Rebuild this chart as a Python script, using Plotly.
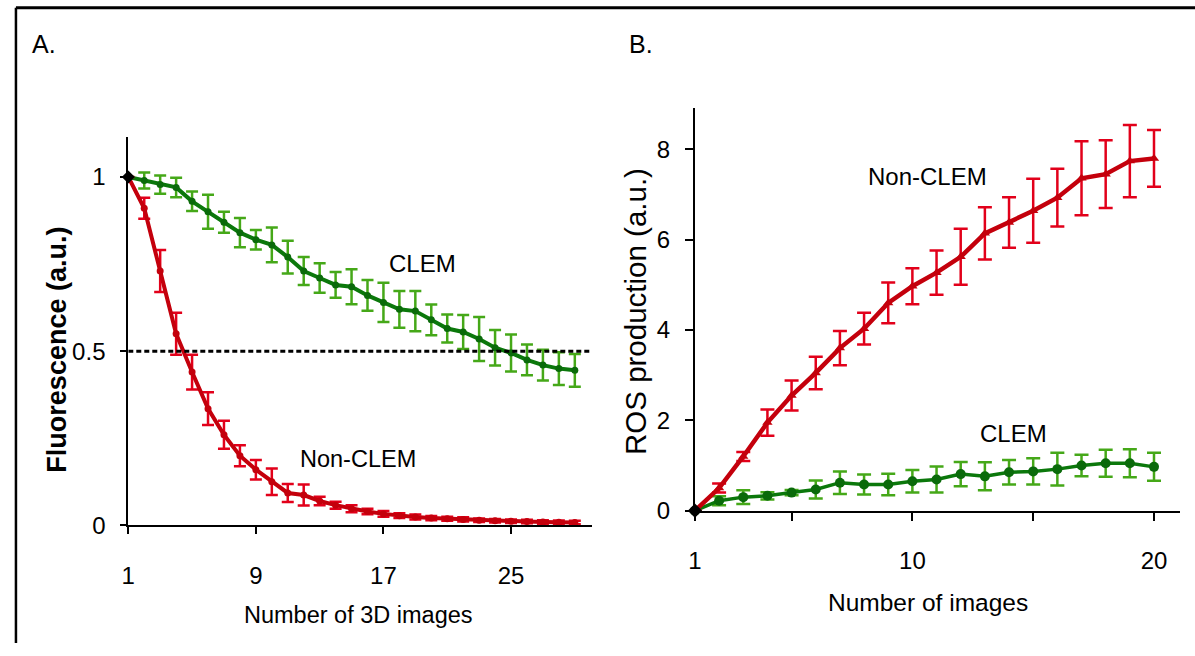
import plotly.graph_objects as go

# ---------------- data ----------------
A_images = list(range(1, 30))
A_clem = [1.0, 0.99, 0.978, 0.97, 0.93, 0.90, 0.87, 0.84, 0.82, 0.805, 0.77, 0.73, 0.71, 0.69, 0.685,
          0.66, 0.64, 0.62, 0.615, 0.59, 0.565, 0.555, 0.535, 0.51, 0.495, 0.475, 0.46, 0.45, 0.445]
A_clem_err = [0.0, 0.023, 0.026, 0.028, 0.028, 0.049, 0.03, 0.042, 0.028, 0.05, 0.047, 0.04, 0.042, 0.037, 0.05,
              0.044, 0.056, 0.053, 0.058, 0.044, 0.04, 0.049, 0.063, 0.051, 0.053, 0.044, 0.044, 0.047, 0.047]
A_non = [1.0, 0.91, 0.73, 0.55, 0.44, 0.335, 0.26, 0.20, 0.16, 0.125, 0.093, 0.087, 0.07, 0.058, 0.048,
         0.04, 0.033, 0.028, 0.024, 0.021, 0.019, 0.017, 0.015, 0.013, 0.012, 0.011, 0.01, 0.009, 0.008]
A_non_err = [0.0, 0.03, 0.06, 0.06, 0.05, 0.047, 0.04, 0.03, 0.028, 0.038, 0.026, 0.03, 0.012, 0.01, 0.01,
             0.008, 0.008, 0.007, 0.007, 0.006, 0.006, 0.006, 0.005, 0.005, 0.005, 0.005, 0.005, 0.005, 0.005]
A_threshold = 0.5
A_xticks = [1, 9, 17, 25]
A_yticks = [0, 0.5, 1]
A_yticklabels = ["0", "0.5", "1"]

B_images = list(range(1, 21))
B_non = [0, 0.5, 1.2, 1.95, 2.55, 3.05, 3.6, 4.03, 4.6, 4.97, 5.27, 5.62, 6.14, 6.38, 6.64, 6.93, 7.36, 7.45, 7.74, 7.8]
B_non_err = [0, 0.1, 0.1, 0.29, 0.33, 0.36, 0.38, 0.35, 0.45, 0.4, 0.49, 0.62, 0.58, 0.56, 0.71, 0.64, 0.82, 0.75, 0.8, 0.63]
B_clem = [0, 0.22, 0.3, 0.33, 0.4, 0.47, 0.62, 0.58, 0.58, 0.65, 0.69, 0.81, 0.76, 0.85, 0.87, 0.92, 1.0, 1.05, 1.05, 0.97]
B_clem_err = [0, 0.1, 0.15, 0.08, 0.06, 0.2, 0.25, 0.22, 0.24, 0.25, 0.29, 0.27, 0.31, 0.27, 0.29, 0.36, 0.24, 0.3, 0.31, 0.31]
B_xticks = [1, 5, 10, 15, 20]
B_xticklabels = ["1", "", "10", "", "20"]
B_yticks = [0, 2, 4, 6, 8]

# ---------------- style ----------------
W, H = 1195, 656
FONT = "Liberation Sans, Arial, sans-serif"
RED_LINE = "#c4000c"
RED_ERR = "#e2001a"
GREEN_LINE = "#0b780b"
GREEN_ERR = "#45a818"
GREEN_MARK = "#0a6a0a"


def px(x):
    return x / W


def py(y):
    return (H - y) / H


fig = go.Figure()

# Panel A
fig.add_trace(go.Scatter(
    x=A_images, y=A_clem, mode="lines+markers", xaxis="x", yaxis="y",
    line=dict(color=GREEN_LINE, width=4),
    marker=dict(color=GREEN_MARK, size=7, symbol="circle"),
    error_y=dict(type="data", array=A_clem_err, color=GREEN_ERR, thickness=2.5, width=6),
    cliponaxis=False, showlegend=False))
fig.add_trace(go.Scatter(
    x=A_images, y=A_non, mode="lines+markers", xaxis="x", yaxis="y",
    line=dict(color=RED_LINE, width=4),
    marker=dict(color=RED_LINE, size=7, symbol="circle"),
    error_y=dict(type="data", array=A_non_err, color=RED_ERR, thickness=2.5, width=6),
    cliponaxis=False, showlegend=False))
fig.add_trace(go.Scatter(
    x=[A_images[0]], y=[A_non[0]], mode="markers", xaxis="x", yaxis="y",
    marker=dict(color="black", size=10, symbol="diamond"),
    cliponaxis=False, showlegend=False))
fig.add_trace(go.Scatter(
    x=[A_images[0], A_images[-1] + 1], y=[A_threshold, A_threshold], mode="lines",
    xaxis="x", yaxis="y", line=dict(color="black", width=3, dash="5px,3px"),
    cliponaxis=False, showlegend=False))

# Panel B
fig.add_trace(go.Scatter(
    x=B_images, y=B_clem, mode="lines+markers", xaxis="x2", yaxis="y2",
    line=dict(color=GREEN_LINE, width=3.5),
    marker=dict(color=GREEN_MARK, size=10, symbol="circle"),
    error_y=dict(type="data", array=B_clem_err, color=GREEN_ERR, thickness=2.5, width=7),
    cliponaxis=False, showlegend=False))
fig.add_trace(go.Scatter(
    x=B_images, y=B_non, mode="lines+markers", xaxis="x2", yaxis="y2",
    line=dict(color=RED_LINE, width=4.5),
    marker=dict(color=RED_LINE, size=9, symbol="triangle-up"),
    error_y=dict(type="data", array=B_non_err, color=RED_ERR, thickness=2.5, width=7),
    cliponaxis=False, showlegend=False))
fig.add_trace(go.Scatter(
    x=[B_images[0]], y=[B_non[0]], mode="markers", xaxis="x2", yaxis="y2",
    marker=dict(color="black", size=11, symbol="diamond"),
    cliponaxis=False, showlegend=False))

axis_common = dict(showgrid=False, zeroline=False, showline=True, linecolor="black", linewidth=2,
                   ticks="outside", tickcolor="black", tickwidth=2)
TICKFONT = dict(family=FONT, size=24, color="black")

fig.update_layout(
    width=W, height=H, margin=dict(l=0, r=0, t=0, b=0),
    paper_bgcolor="white", plot_bgcolor="white",
    xaxis=dict(domain=[px(122), px(588)], range=[1, 30.05], anchor="y",
               tickmode="array", tickvals=A_xticks, ticklen=7, ticklabelstandoff=21,
               tickfont=TICKFONT, **axis_common),
    yaxis=dict(domain=[py(536), py(140)], range=[0, 1.114], anchor="x",
               tickmode="array", tickvals=A_yticks, ticktext=A_yticklabels, ticklen=6,
               ticklabelstandoff=10, tickfont=TICKFONT, **axis_common),
    xaxis2=dict(domain=[px(692), px(1180)], range=[1, 21.08], anchor="y2",
                tickmode="array", tickvals=B_xticks, ticktext=B_xticklabels, ticklen=8,
                ticklabelstandoff=20, tickfont=TICKFONT, **axis_common),
    yaxis2=dict(domain=[py(521), py(110)], range=[0, 8.92], anchor="x2",
                tickmode="array", tickvals=B_yticks, ticklen=8, ticklabelstandoff=10,
                tickfont=TICKFONT, **axis_common),
)

ann = []


def text(x, y, s, size=24, angle=0, bold=False):
    ann.append(dict(x=px(x), y=py(y), xref="paper", yref="paper", text=("<b>%s</b>" % s) if bold else s,
                    showarrow=False, xanchor="center", yanchor="middle", textangle=angle,
                    font=dict(family=FONT, size=size, color="black")))


text(37, 45, "A.", size=25)
text(638, 45, "B.", size=25)
text(418, 269, "CLEM", size=24)
text(353, 468, "Non-CLEM", size=23.5)
text(926, 180, "Non-CLEM", size=24)
text(1012, 442, "CLEM", size=24)
text(354, 627, "Number of 3D images", size=23.5)
text(926, 615, "Number of images", size=24.5)
text(50, 357, "Fluorescence (a.u.)", size=27, angle=-90, bold=True)
text(632, 318, "ROS production (a.u.)", size=29.5, angle=-90)
fig.update_layout(annotations=ann)

# frame lines (top and left)
fig.add_shape(type="line", xref="paper", yref="paper", x0=px(9), x1=1, y0=py(8), y1=py(8),
              line=dict(color="black", width=3))
fig.add_shape(type="line", xref="paper", yref="paper", x0=px(9), x1=px(9), y0=py(8), y1=0,
              line=dict(color="black", width=2.5))

fig.write_html("out.html")
